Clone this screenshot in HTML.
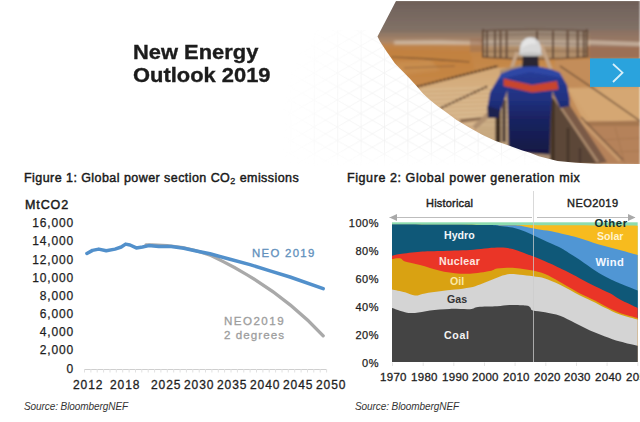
<!DOCTYPE html>
<html><head><meta charset="utf-8">
<style>
html,body{margin:0;padding:0;background:#fff;}
body{width:640px;height:422px;position:relative;overflow:hidden;font-family:"Liberation Sans",sans-serif;color:#222;}
.t{position:absolute;white-space:nowrap;line-height:1;}
#title{left:133px;top:41px;font-size:20px;font-weight:bold;color:#1c1c1c;-webkit-text-stroke:0.35px #1c1c1c;line-height:22.5px;transform:scaleX(1.095);transform-origin:0 0;}
.fig{font-size:12.5px;color:#1a1a1a;-webkit-text-stroke:0.45px #1a1a1a;letter-spacing:0.62px;}
.yl{font-size:12px;color:#1e1e1e;text-align:right;width:70px;letter-spacing:0.85px;-webkit-text-stroke:0.25px #1e1e1e;}
.xl{font-size:12px;color:#1e1e1e;letter-spacing:0.9px;-webkit-text-stroke:0.3px #1e1e1e;}
.y2{font-size:11px;color:#1e1e1e;text-align:right;width:50px;letter-spacing:0.5px;-webkit-text-stroke:0.25px #1e1e1e;}
.x2{font-size:11.5px;color:#1e1e1e;letter-spacing:0.3px;-webkit-text-stroke:0.3px #1e1e1e;}
.in{font-size:10.6px;font-weight:bold;}
.src{font-size:10px;letter-spacing:-0.08px;font-style:italic;color:#333;}
svg{position:absolute;left:0;top:0;}
</style></head><body>
<svg width="640" height="422" viewBox="0 0 640 422">
<defs>
<pattern id="iso" patternUnits="userSpaceOnUse" width="23.4" height="13.5" x="384" y="100">
<path d="M0 0L23.4 13.5M0 13.5L23.4 0M0.5 0V13.5" stroke="#d8d8d8" stroke-width="0.8" fill="none"/>
</pattern>
<radialGradient id="gfade" gradientUnits="userSpaceOnUse" cx="450" cy="130" r="170">
<stop offset="0" stop-color="#fff" stop-opacity="1"/>
<stop offset="0.6" stop-color="#fff" stop-opacity="0.75"/>
<stop offset="1" stop-color="#fff" stop-opacity="0"/>
</radialGradient>
<linearGradient id="gfy" gradientUnits="userSpaceOnUse" x1="0" y1="145" x2="0" y2="166">
<stop offset="0" stop-color="#fff" stop-opacity="1"/>
<stop offset="1" stop-color="#fff" stop-opacity="0"/>
</linearGradient>
<mask id="gm2"><rect x="280" y="30" width="360" height="140" fill="url(#gfy)"/></mask>
<mask id="gm"><rect x="280" y="30" width="360" height="140" fill="url(#gfade)"/></mask>
</defs>
<g mask="url(#gm2)"><rect x="280" y="30" width="360" height="140" fill="url(#iso)" mask="url(#gm)" opacity="0.4"/></g>
<defs>
<clipPath id="pc"><path d="M396,1 L640,1 L640,164 L595,163.8 L576,162.8 L557.5,161 L538.75,156.25 L530,152.8 L521.7,150.2 L508.7,145.6 L495.6,141 L482.6,135 L469.6,127.8 L456.5,120 L451.9,116.4 L444.8,111.3 L437.7,106.2 L430.6,100.5 L423.4,94.1 L416.3,85.8 L409.2,78 L402.1,70.8 L395,63.6 L386.6,51.5 L380,41.6 L377.5,36.6 Z"/></clipPath>
<linearGradient id="bg" gradientUnits="userSpaceOnUse" x1="0" y1="1" x2="0" y2="164">
<stop offset="0" stop-color="#6e5f58"/>
<stop offset="0.08" stop-color="#776860"/>
<stop offset="0.17" stop-color="#807066"/>
<stop offset="0.195" stop-color="#887262"/>
<stop offset="0.225" stop-color="#9a7b62"/>
<stop offset="0.245" stop-color="#a9876a"/>
<stop offset="0.275" stop-color="#bd8452"/>
<stop offset="0.35" stop-color="#c4884c"/>
<stop offset="0.45" stop-color="#c99054"/>
<stop offset="0.55" stop-color="#cf9f6c"/>
<stop offset="0.7" stop-color="#d3ac82"/>
<stop offset="1" stop-color="#c59c76"/>
</linearGradient>
<filter id="bl" x="-5%" y="-5%" width="110%" height="110%"><feGaussianBlur stdDeviation="0.8"/></filter>
<filter id="bl2" x="-10%" y="-50%" width="120%" height="200%"><feGaussianBlur stdDeviation="1.2"/></filter>
<linearGradient id="wk" gradientUnits="userSpaceOnUse" x1="0" y1="64" x2="0" y2="160">
<stop offset="0" stop-color="#2b3f9c"/>
<stop offset="0.35" stop-color="#213282"/>
<stop offset="0.55" stop-color="#1a2464"/>
<stop offset="1" stop-color="#11163e"/>
</linearGradient>
</defs>
<g clip-path="url(#pc)">
<g filter="url(#bl)">
<rect x="370" y="0" width="270" height="167" fill="url(#bg)"/>
<path d="M375 34 H640 M380 37.5 H640" stroke="#b0907a" stroke-width="1" opacity="0.45"/>
<g filter="url(#bl2)">
<path d="M394 41 L440 40.5 L480 42 L482 45 L440 44.5 L394 44.5Z" fill="#d6c4b2" opacity="0.85"/>
<path d="M482 42 L640 44 L640 47.5 L482 46Z" fill="#cdb9a8" opacity="0.7"/>
<path d="M380 48 L470 50 L475 70 L420 90 L380 62Z" fill="#c27a38" opacity="0.45"/>
<path d="M395 62 L430 60 L440 70 L400 75Z" fill="#d8a870" opacity="0.5"/>
</g>
<path d="M378 45 L560 45 L560 62 L496 67 L416 87 L395 63Z" fill="#c4843f" opacity="0.45" filter="url(#bl2)"/>
<path d="M416 88 L496 68 L520 68 L510 150 L430 102Z" fill="#d8b98e" opacity="0.65"/>
<path d="M421 90L505 87M422 94L505 91M423 98L505 95M424 102L505 99M425 106L505 103M427 110L505 107M428 114L505 111M429 118L505 115M430 122L505 119M431 126L505 123M433 130L505 127M434 134L505 131M435 138L505 135M436 142L505 139M437 146L505 143" stroke="#e6d0aa" stroke-width="1" opacity="0.55"/>
<path d="M423 92L505 89M424 96L505 93M425 100L505 97M426 104L505 101M427 108L505 105M429 112L505 109M430 116L505 113M431 120L505 117M432 124L505 121M433 128L505 125M435 132L505 129M436 136L505 133M437 140L505 137M438 144L505 141M439 148L505 145" stroke="#b48c62" stroke-width="0.8" opacity="0.35"/>
<path d="M441 108 L488 86" stroke="#5a3e2c" stroke-width="2" stroke-dasharray="3 1"/>
<path d="M392 57 L430 59 L470 62" stroke="#6e4a2e" stroke-width="1.5" stroke-dasharray="2 1" opacity="0.85"/>
<path d="M404 68 L455 66" stroke="#7a5436" stroke-width="1.2" opacity="0.6"/>
<path d="M416 87 L498 66" stroke="#5a3e2c" stroke-width="2.2" stroke-dasharray="3 1"/>
<!-- right floor -->
<path d="M590 30 L640 30 L640 60 L590 60Z" fill="#8d7262" opacity="0.6"/>
<path d="M555 60 L640 58 L640 164 L555 164Z" fill="#c38d5a"/>
<path d="M567 88 L640 86 L640 122 L585 124Z" fill="#d3a470"/>
<path d="M570 91H640M573 94H640M575 97H640M577 100H640M579 103H640M581 106H640M583 109H640M585 112H640M587 115H640M589 118H640" stroke="#e0b888" stroke-width="1" opacity="0.45"/>
<path d="M580 121 L640 120 L640 126 L582 127Z" fill="#a47650"/>
<path d="M582 121 L640 120" stroke="#dcae7c" stroke-width="1"/>
<path d="M575 126 L640 126 L640 164 L590 164Z" fill="#b5825a"/>
<path d="M600 140 L640 138 M610 152 L640 151 M615 127 L625 164" stroke="#9a6c4a" stroke-width="1" opacity="0.5"/>
<path d="M560 66 L600 93 L640 121" stroke="#6f5038" stroke-width="1.5"/>
<path d="M578 118 L620 161" stroke="#c89a6c" stroke-width="3"/>
<path d="M581 117 L623 160" stroke="#7a5a42" stroke-width="1.2"/>
<!-- cage -->
<path d="M484 31 Q535 28 587 31 L587 57 Q535 61 484 57Z" fill="#a39484" opacity="0.55"/>
<path d="M482 40 L588 40 L588 46 L482 46Z" fill="#cdbcac" opacity="0.45"/>
<path d="M588 40 L640 42 L640 46 L588 44Z" fill="#cdbaa8" opacity="0.7"/>
<path d="M588 46 L640 47 L640 58 L588 58Z" fill="#9a6c52" opacity="0.7"/>
<path d="M470 38 L482 38 L482 52 L470 52Z" fill="#9a7058" opacity="0.5"/>
<g stroke="#5c4232" fill="none">
<path d="M482 31 Q535 28 588 31" stroke-width="1.5" opacity="0.75"/>
<path d="M482 35.2 Q535 33 588 35.2" stroke-width="1" opacity="0.45"/>
<path d="M482 44.4 Q535 42 588 44.4" stroke-width="1" opacity="0.5"/>
<path d="M482 51.5 Q535 50 588 51.5" stroke-width="1" opacity="0.5"/>
<path d="M482 57 Q535 61 588 57" stroke-width="1.6" opacity="0.75"/>
<path d="M483 29V57M487 31V58M495 31V58M500.5 31V58M506.6 31V58M537 31V58M553 31V58M567.6 31V58M577.7 31V58M583.8 31V58M586.9 29V57" stroke-width="2" opacity="0.9"/>
</g>
<path d="M517 52 L511 70" stroke="#c4a486" stroke-width="3.5"/>
<path d="M541 44 L551 70" stroke="#c4a486" stroke-width="3.5"/>
<!-- walkway -->
<path d="M500 70 L530 62 L548 70 L556 164 L500 164Z" fill="#a88c72"/>
<path d="M478 125 L500 98 L510 98 L510 150 L480 150Z" fill="#c4a67e" opacity="0.8"/>
<path d="M482 120H508M486 115H508M490 110H508M494 105H508M480 125H508" stroke="#dcc29c" stroke-width="1" opacity="0.6"/>
<!-- left railing -->
<path d="M460 121 L486 118" stroke="#8a6a50" stroke-width="3"/>
<path d="M474 128 L502 102" stroke="#b09070" stroke-width="5"/>
<path d="M498 106V143" stroke="#3a2a22" stroke-width="5"/>
<path d="M504 100V142" stroke="#5a4a40" stroke-width="4"/>
<!-- right railing -->
<path d="M550 96 L566 104 L600 164 L550 164Z" fill="#5c4638"/>
<path d="M552 94 L563 95 L607 162 L596 164Z" fill="#7a5a46"/>
<path d="M553 96 L598 162" stroke="#ae8e70" stroke-width="2.2"/>
<path d="M553 100V164" stroke="#3e2e24" stroke-width="3"/>
<path d="M568 128V164" stroke="#4a382c" stroke-width="3"/>
<path d="M580 148V164" stroke="#4a382c" stroke-width="2"/>
<!-- worker -->
<path d="M523 54 L538 54 L539 68 L522 68Z" fill="#2a2830"/>
<path d="M501 73.7 Q529.75 60 559.6 72.4 L567 84.9 L569.5 98.5 L569.5 106 L560 108 L552.5 91 L550.5 120 L549.7 154.5 L508.6 152 L508 120 L507.4 90 L499 114.7 L498 118 L488 118 L487.5 107.2 L490 92.3 Z" fill="url(#wk)"/>
<path d="M501 73.7 Q529.75 60 559.6 72.4 L563 78 L530 72 L498 80Z" fill="#3352b4" opacity="0.5"/>
<path d="M503.6 78.6 L532 85 L557 81 L558.5 89.5 L532 92.5 L503.6 86Z" fill="#c8442e"/>
<path d="M487.5 106 L488 118 L498 118 L500 110Z" fill="#1a2050"/>
<path d="M519.5 54 C519 43 523.5 37.3 530.5 37.3 C537.5 37.3 541.5 43 541.5 54Z" fill="#d8d8d8"/>
<path d="M522 48 C522 41 526 38.5 530 38.5 C534 38.5 536 41 536 44 C532 43 526 45 522 48Z" fill="#e8e8e8" opacity="0.8"/>
<ellipse cx="530.5" cy="54.3" rx="12.5" ry="2" fill="#c4c4c4"/>

</g>
<!-- button -->
<rect x="590" y="58.4" width="50" height="28.5" fill="#2aa3dd"/>
<path d="M613 64 L622.5 72.7 L613 82" stroke="#d6effa" stroke-width="1.8" fill="none"/>
</g>

<line x1="84" y1="369.5" x2="326" y2="369.5" stroke="#cfcfcf" stroke-width="1"/>
<path d="M84.5 369V372.5M90.9 369V372.5M97.2 369V372.5M103.6 369V372.5M110.0 369V372.5M116.3 369V372.5M122.7 369V372.5M129.1 369V372.5M135.5 369V372.5M141.8 369V372.5M148.2 369V372.5M154.6 369V372.5M160.9 369V372.5M167.3 369V372.5M173.7 369V372.5M180.1 369V372.5M186.4 369V372.5M192.8 369V372.5M199.2 369V372.5M205.5 369V372.5M211.9 369V372.5M218.3 369V372.5M224.6 369V372.5M231.0 369V372.5M237.4 369V372.5M243.8 369V372.5M250.1 369V372.5M256.5 369V372.5M262.9 369V372.5M269.2 369V372.5M275.6 369V372.5M282.0 369V372.5M288.3 369V372.5M294.7 369V372.5M301.1 369V372.5M307.5 369V372.5M313.8 369V372.5M320.2 369V372.5M326.6 369V372.5" stroke="#e0e0e0" stroke-width="1"/>
<path d="M146,245 C175,244 195,249.5 211,255.5 C250,274 290,300 323.2,335.8" fill="none" stroke="#a9a9a9" stroke-width="3.3" stroke-linecap="round"/>
<polyline points="86.9,253.5 92.5,250.4 98.75,249.1 106.25,250.75 115,249.1 121.25,247 125.6,244.1 130,245 136.25,247.9 142.5,247 148.75,245.6 158.75,246.4 171.25,246.6 183.75,248.3 196.25,251 210,253.8 230,259.3 250,264.6 270,270.8 290,277 323.2,288.7" fill="none" stroke="#5290cb" stroke-width="3.5" stroke-linejoin="round" stroke-linecap="round"/>
<rect x="392" y="222.3" width="245.7" height="139.7" fill="#8ddcae"/>
<path d="M392.0,224.6 C432.9,224.8 596.8,225.5 637.7,225.7 L637.7,362 L392,362 Z" fill="#f7bb1e"/>
<path d="M392.0,224.6 C410.0,224.7 479.0,225.0 500.0,225.2 C521.0,225.3 513.8,225.2 518.0,225.5 C522.2,225.8 521.8,226.1 525.0,226.8 C528.2,227.4 533.3,228.5 537.5,229.2 C541.7,230.0 546.2,230.3 550.0,231.0 C553.8,231.7 555.2,232.0 560.0,233.2 C564.8,234.3 572.7,236.1 579.0,237.9 C585.3,239.7 591.7,242.3 598.0,244.2 C604.3,246.1 610.4,247.5 617.0,249.3 C623.6,251.1 634.2,254.1 637.7,255.0 L637.7,362 L392,362 Z" fill="#5096d4"/>
<path d="M392.0,224.6 C406.7,224.7 462.8,224.9 480.0,225.0 C497.2,225.1 491.7,225.1 495.0,225.3 C498.3,225.5 497.1,225.7 500.0,226.1 C502.9,226.5 508.3,226.7 512.5,227.6 C516.7,228.5 520.8,229.9 525.0,231.5 C529.2,233.1 533.3,235.3 537.5,237.2 C541.7,239.1 546.2,241.3 550.0,243.0 C553.8,244.7 557.5,246.2 560.0,247.5 C562.5,248.8 561.7,248.4 565.0,250.5 C568.3,252.6 575.0,256.6 580.0,260.0 C585.0,263.4 590.0,267.4 595.0,270.6 C600.0,273.8 605.8,277.0 610.0,279.1 C614.2,281.2 615.4,281.6 620.0,283.5 C624.6,285.4 634.8,289.3 637.7,290.5 L637.7,362 L392,362 Z" fill="#0f5878"/>
<path d="M392.0,255.8 C393.3,255.5 395.3,254.7 400.0,254.0 C404.7,253.3 413.3,252.2 420.0,251.7 C426.7,251.2 431.7,251.3 440.0,251.0 C448.3,250.7 460.5,250.6 470.0,250.0 C479.5,249.4 490.3,247.8 497.0,247.6 C503.7,247.3 506.2,247.9 510.0,248.5 C513.8,249.1 516.2,250.1 520.0,251.4 C523.8,252.7 528.8,254.7 533.0,256.3 C537.2,257.9 541.3,259.7 545.0,261.3 C548.7,262.9 551.7,264.2 555.0,265.8 C558.3,267.4 560.8,268.5 565.0,270.6 C569.2,272.7 575.0,275.8 580.0,278.4 C585.0,281.0 590.0,283.7 595.0,286.2 C600.0,288.7 605.8,291.1 610.0,293.3 C614.2,295.5 615.4,297.1 620.0,299.5 C624.6,301.9 634.8,306.6 637.7,308.0 L637.7,362 L392,362 Z" fill="#ea3527"/>
<path d="M392.0,259.0 C393.3,258.9 397.8,257.9 400.0,258.3 C402.2,258.7 401.7,260.3 405.0,261.4 C408.3,262.5 414.2,263.4 420.0,265.0 C425.8,266.6 434.2,269.3 440.0,270.7 C445.8,272.1 450.0,272.7 455.0,273.2 C460.0,273.7 464.2,274.0 470.0,273.7 C475.8,273.4 485.5,272.0 490.0,271.1 C494.5,270.2 493.7,269.2 497.0,268.6 C500.3,268.0 506.2,267.7 510.0,267.7 C513.8,267.7 516.2,267.9 520.0,268.4 C523.8,268.9 528.8,269.7 533.0,270.6 C537.2,271.6 540.5,272.2 545.0,274.1 C549.5,276.0 554.2,278.8 560.0,282.0 C565.8,285.2 574.2,290.4 580.0,293.5 C585.8,296.6 590.8,298.4 595.0,300.5 C599.2,302.6 600.8,303.9 605.0,306.0 C609.2,308.1 614.5,311.0 620.0,313.0 C625.5,315.0 634.8,317.2 637.7,318.0 L637.7,362 L392,362 Z" fill="#d9a212"/>
<path d="M392.0,289.5 C394.2,290.0 401.2,291.3 405.0,292.3 C408.8,293.3 411.7,295.4 415.0,295.6 C418.3,295.8 420.8,294.1 425.0,293.4 C429.2,292.7 435.0,291.9 440.0,291.3 C445.0,290.7 450.0,290.2 455.0,289.6 C460.0,289.0 465.8,288.4 470.0,287.5 C474.2,286.6 476.7,285.5 480.0,284.4 C483.3,283.2 486.7,281.9 490.0,280.6 C493.3,279.3 496.7,277.6 500.0,276.5 C503.3,275.4 506.7,274.4 510.0,274.1 C513.3,273.8 516.2,274.4 520.0,274.8 C523.8,275.2 528.8,275.7 533.0,276.3 C537.2,276.9 540.5,277.0 545.0,278.4 C549.5,279.8 554.2,281.9 560.0,284.8 C565.8,287.7 574.2,292.6 580.0,295.5 C585.8,298.4 590.8,300.4 595.0,302.5 C599.2,304.6 600.8,305.8 605.0,307.8 C609.2,309.8 614.5,312.6 620.0,314.5 C625.5,316.4 634.8,318.7 637.7,319.5 L637.7,362 L392,362 Z" fill="#d4d4d4"/>
<path d="M392.0,308.0 C394.2,308.7 401.2,311.4 405.0,312.2 C408.8,313.0 410.8,313.3 415.0,313.0 C419.2,312.7 424.2,311.2 430.0,310.5 C435.8,309.8 443.3,309.1 450.0,308.9 C456.7,308.7 465.3,309.5 470.0,309.2 C474.7,308.9 473.5,307.5 478.0,307.0 C482.5,306.5 491.8,306.6 497.0,306.3 C502.2,306.0 504.7,305.1 509.5,305.0 C514.3,304.9 522.6,305.1 526.0,305.5 C529.4,305.9 528.8,306.3 530.0,307.2 C531.2,308.1 530.5,309.8 533.0,310.6 C535.5,311.5 540.5,311.4 545.0,312.3 C549.5,313.2 555.0,314.0 560.0,315.8 C565.0,317.6 570.0,320.6 575.0,323.0 C580.0,325.4 585.0,328.2 590.0,330.4 C595.0,332.6 600.0,334.5 605.0,336.4 C610.0,338.2 614.5,339.9 620.0,341.5 C625.5,343.1 634.8,345.1 637.7,345.8 L637.7,362 L392,362 Z" fill="#444444"/>
<path d="M389.5 217.5H532M537 217.5H635" stroke="#bdbdbd" stroke-width="1"/>
<path d="M389.5 217.5L397 214V221Z" fill="#a9a9a9"/>
<path d="M635.5 217.5L628 214V221Z" fill="#a9a9a9"/>
<path d="M533.5 191V362" stroke="#cccccc" stroke-opacity="0.75" stroke-width="1"/>
<path d="M392.5 362.5V366M423.2 362.5V366M453.8 362.5V366M484.5 362.5V366M515.1 362.5V366M545.8 362.5V366M576.5 362.5V366M607.1 362.5V366M637.8 362.5V366" stroke="#e4e4e4" stroke-width="1"/>
</svg>
<div id="title" class="t">New Energy<br>Outlook 2019</div>

<div class="t fig" style="left:24px;top:172px;letter-spacing:0.44px;">Figure 1: Global power section CO<span style="font-size:9px;vertical-align:-2px;-webkit-text-stroke:0.3px #1a1a1a;">2</span> emissions</div>
<div class="t fig" style="left:347px;top:172px;letter-spacing:0.58px;">Figure 2: Global power generation mix</div>
<div class="t" style="left:25px;top:199px;font-size:12.5px;color:#1a1a1a;-webkit-text-stroke:0.45px #1a1a1a;letter-spacing:0.9px;">MtCO2</div>

<div class="t yl" style="left:4px;top:217px;">16,000</div>
<div class="t yl" style="left:4px;top:235px;">14,000</div>
<div class="t yl" style="left:4px;top:254px;">12,000</div>
<div class="t yl" style="left:4px;top:272px;">10,000</div>
<div class="t yl" style="left:4px;top:290px;">8,000</div>
<div class="t yl" style="left:4px;top:308px;">6,000</div>
<div class="t yl" style="left:4px;top:326px;">4,000</div>
<div class="t yl" style="left:4px;top:344px;">2,000</div>
<div class="t yl" style="left:4px;top:363px;">0</div>

<div class="t xl" style="left:73px;top:379px;">2012</div>
<div class="t xl" style="left:110px;top:379px;">2018</div>
<div class="t xl" style="left:151px;top:379px;">2025</div>
<div class="t xl" style="left:184px;top:379px;">2030</div>
<div class="t xl" style="left:217px;top:379px;">2035</div>
<div class="t xl" style="left:250px;top:379px;">2040</div>
<div class="t xl" style="left:283px;top:379px;">2045</div>
<div class="t xl" style="left:316px;top:379px;">2050</div>

<div class="t" style="left:252px;top:248px;font-size:11.4px;color:#6190bc;letter-spacing:1.3px;-webkit-text-stroke:0.3px #6190bc;">NEO 2019</div>
<div class="t" style="left:224px;top:313.6px;font-size:11.6px;color:#9d9d9d;line-height:14.2px;-webkit-text-stroke:0.3px #9d9d9d;"><span style="letter-spacing:1.45px">NEO2019</span><br><span style="letter-spacing:1.05px">2 degrees</span></div>

<div class="t y2" style="left:329px;top:218px;">100%</div>
<div class="t y2" style="left:329px;top:246px;">80%</div>
<div class="t y2" style="left:329px;top:274px;">60%</div>
<div class="t y2" style="left:329px;top:302px;">40%</div>
<div class="t y2" style="left:329px;top:330px;">20%</div>
<div class="t y2" style="left:329px;top:358px;">0%</div>

<div class="t x2" style="left:380px;top:372px;">1970</div>
<div class="t x2" style="left:411px;top:372px;">1980</div>
<div class="t x2" style="left:442px;top:372px;">1990</div>
<div class="t x2" style="left:472px;top:372px;">2000</div>
<div class="t x2" style="left:503px;top:372px;">2010</div>
<div class="t x2" style="left:534px;top:372px;">2020</div>
<div class="t x2" style="left:564px;top:372px;">2030</div>
<div class="t x2" style="left:595px;top:372px;">2040</div>
<div class="t x2" style="left:626px;top:372px;">2050</div>

<div class="t" style="left:426px;top:198px;font-size:11px;color:#1e1e1e;-webkit-text-stroke:0.4px #1e1e1e;letter-spacing:0.2px;">Historical</div>
<div class="t" style="left:567px;top:198px;font-size:11px;color:#1e1e1e;-webkit-text-stroke:0.4px #1e1e1e;letter-spacing:0.45px;">NEO2019</div>
<div class="t in" style="left:594.5px;top:217.5px;color:#16332f;font-size:11.3px;letter-spacing:0.6px;">Other</div>
<div class="t in" style="left:597px;top:231px;color:#fff3cc;">Solar</div>
<div class="t in" style="left:595.5px;top:256.5px;color:#f4f8ff;font-size:11.2px;letter-spacing:0.4px;">Wind</div>
<div class="t in" style="left:444px;top:230px;color:#f2f6f8;">Hydro</div>
<div class="t in" style="left:439px;top:256px;color:#fde6e0;letter-spacing:0.35px;">Nuclear</div>
<div class="t in" style="left:450px;top:276px;color:#fbe9a8;">Oil</div>
<div class="t in" style="left:447px;top:294px;color:#333;">Gas</div>
<div class="t in" style="left:444px;top:329.5px;color:#f4f4f4;letter-spacing:0.7px;">Coal</div>

<div class="t src" style="left:24px;top:402px;">Source: BloombergNEF</div>
<div class="t src" style="left:355px;top:402px;">Source: BloombergNEF</div>
</body></html>
